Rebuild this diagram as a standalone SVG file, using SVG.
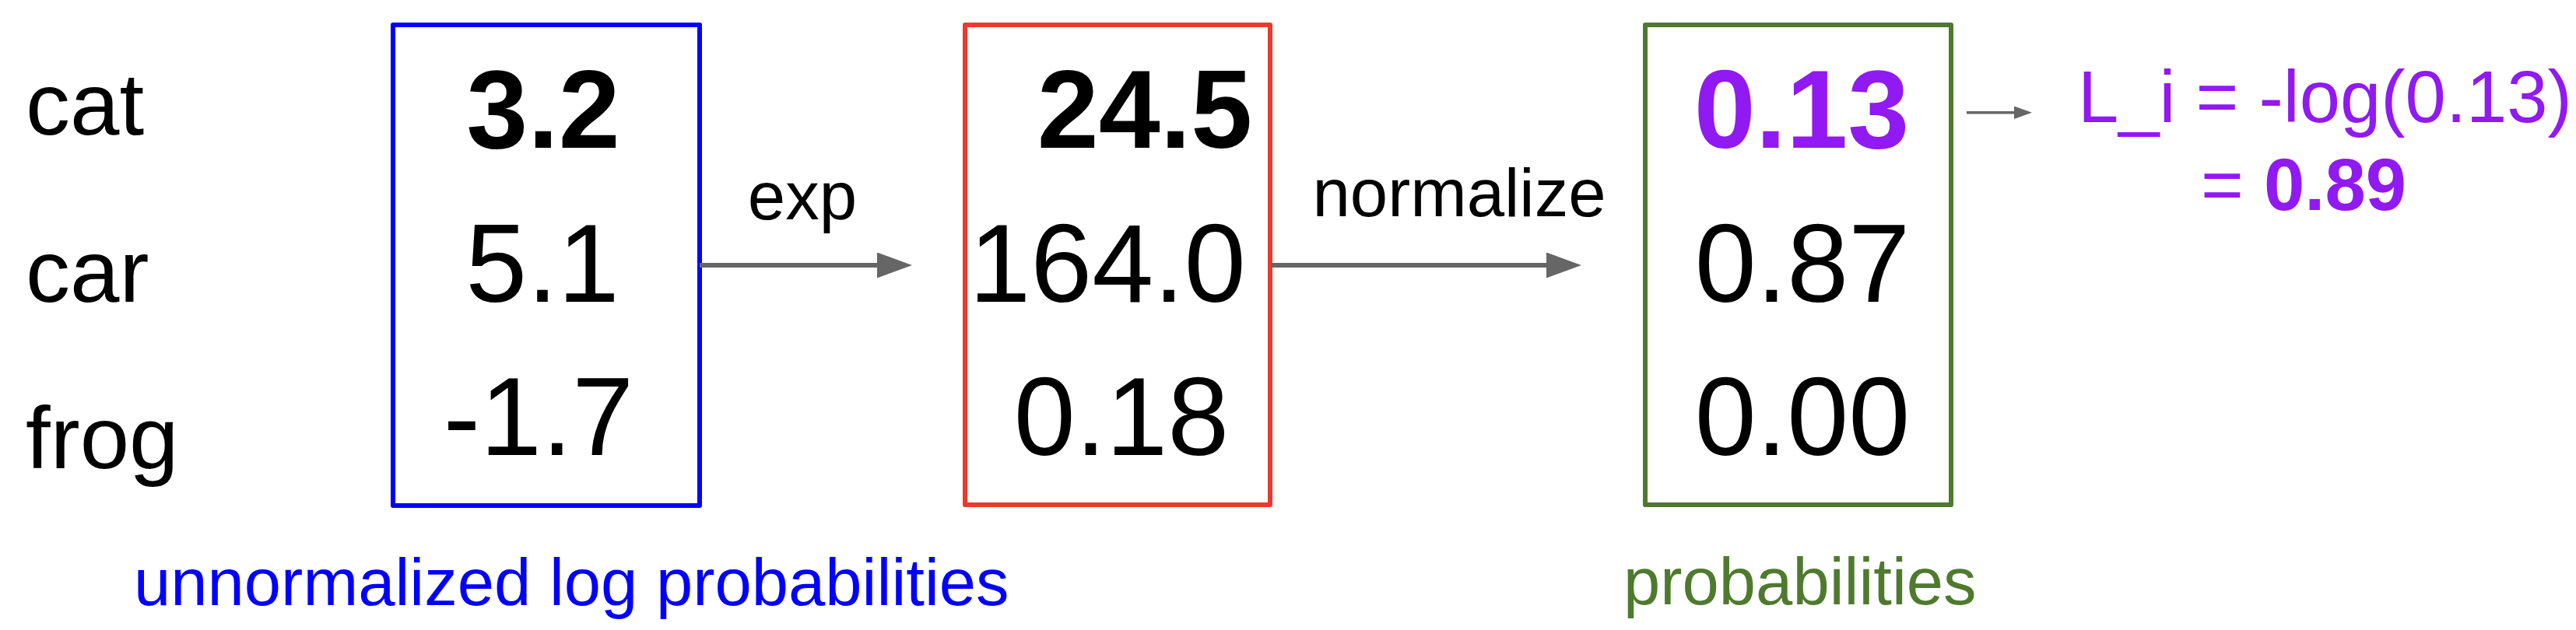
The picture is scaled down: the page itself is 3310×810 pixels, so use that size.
<svg xmlns="http://www.w3.org/2000/svg" width="3310" height="810" viewBox="0 0 3310 810">
<style>
text{font-family:"Liberation Sans",Arial,sans-serif;}
.lbl{font-size:114px;fill:#000;}
.num{font-size:142px;fill:#000;text-anchor:middle;}
.b{font-weight:bold;}
.hl{fill:#9119f2;}
.op{font-size:87px;fill:#000;text-anchor:middle;}
.box{fill:none;stroke-width:6;stroke-linejoin:round;}
.conn{stroke:#666666;stroke-width:6;fill:none;}
.connS{stroke:#666666;stroke-width:3.5;fill:none;}
.purple{fill:#9119f2;font-size:94px;}
.cap{font-size:85px;}
</style>
<defs>
<marker id="ah" markerUnits="userSpaceOnUse" markerWidth="45" markerHeight="33" refX="0" refY="16.5" orient="auto">
<path d="M0,0 L45,16.5 L0,33 Z" fill="#666666"/>
</marker>
<marker id="ahS" markerUnits="userSpaceOnUse" markerWidth="23" markerHeight="17" refX="0" refY="8.2" orient="auto">
<path d="M0,0 L23,8.2 L0,16.4 Z" fill="#666666"/>
</marker>
</defs>
<g id="class-labels">
<text class="lbl" x="33" y="173">cat</text>
<text class="lbl" x="33" y="388">car</text>
<text class="lbl" x="33" y="602">frog</text>
</g>
<g id="scores">
<rect class="box" x="505" y="32" width="394" height="618" stroke="#0000ff"/>
<text class="num b" x="698" y="190">3.2</text>
<text class="num" x="697" y="388">5.1</text>
<text class="num" x="692" y="585">-1.7</text>
<text class="cap" x="172" y="778" fill="#0000ff">unnormalized log probabilities</text>
</g>
<g id="exp-values">
<rect class="box" x="1240" y="32" width="392" height="617" stroke="#ea3a2b"/>
<text class="num b" x="1471" y="190">24.5</text>
<text class="num" x="1423" y="388">164.0</text>
<text class="num" x="1441" y="585">0.18</text>
</g>
<g id="probabilities">
<rect class="box" x="2114" y="32" width="393" height="617" stroke="#4e7a2d"/>
<text class="num b hl" x="2315" y="190">0.13</text>
<text class="num" x="2316" y="388">0.87</text>
<text class="num" x="2316" y="585">0.00</text>
<text class="cap" x="2086" y="777" fill="#4e7a2d">probabilities</text>
</g>
<g id="loss">
<text class="purple" x="2670" y="157">L_i = -log(0.13)</text>
<text class="purple" x="2828" y="270">= <tspan font-weight="bold">0.89</tspan></text>
</g>
<g id="connectors">
<line class="conn" x1="899" y1="341" x2="1127" y2="341" marker-end="url(#ah)"/>
<text class="op" x="1031" y="282">exp</text>
<line class="conn" x1="1633" y1="341" x2="1987" y2="341" marker-end="url(#ah)"/>
<text class="op" x="1875" y="278">normalize</text>
<line class="connS" x1="2527" y1="144.7" x2="2588" y2="144.7" marker-end="url(#ahS)"/>
</g>
</svg>
